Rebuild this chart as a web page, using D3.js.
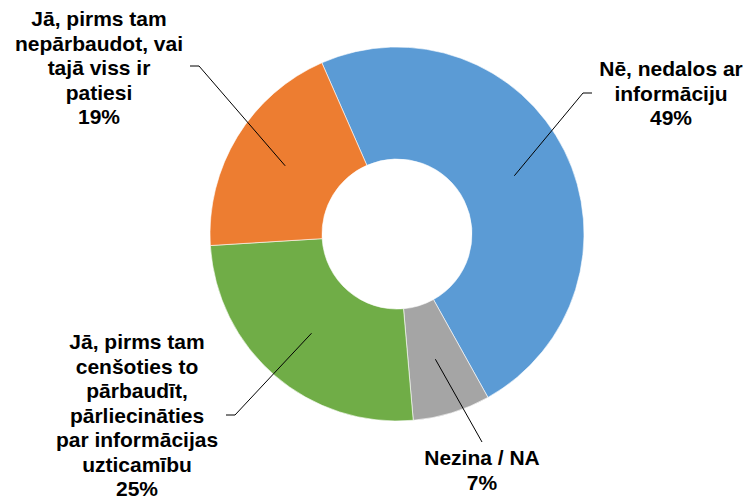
<!DOCTYPE html>
<html>
<head>
<meta charset="utf-8">
<script src="https://cdn.jsdelivr.net/npm/d3@7"></script>
<style>
  body { margin: 0; background: #fff; }
  svg { display: block; }
  .lbl { font-family: "Liberation Sans", Arial, sans-serif; font-weight: bold; font-size: 21px; fill: #000; }
</style>
</head>
<body>
<svg id="chart"></svg>
<script>
// slice order clockwise, starting at the blue one
const categories = ["Nē, nedalos ar informāciju", "Nezina / NA",
  "Jā, pirms tam cenšoties to pārbaudīt, pārliecināties par informācijas uzticamību",
  "Jā, pirms tam nepārbaudot, vai tajā viss ir patiesi"];
const values = [48.5, 6.7, 25.4, 19.4];
const percentLabels = ["49%", "7%", "25%", "19%"];
const labelLines = [
  ["Nē, nedalos ar", "informāciju"],
  ["Nezina / NA"],
  ["Jā, pirms tam", "cenšoties to", "pārbaudīt,", "pārliecināties", "par informācijas", "uzticamību"],
  ["Jā, pirms tam", "nepārbaudot, vai", "tajā viss ir", "patiesi"]
];
const colors = ["#5B9BD5", "#A5A5A5", "#70AD47", "#ED7D31"];

const width = 748, height = 501;
const cx = 397, cy = 234;
const outerR = 187, innerR = 75;
const startDeg = -23.7;
const lineH = 24.5;

// label placement: text centre x, first baseline y, leader elbow points
const labelPos = [
  { x: 671, y: 76, stub: [[592, 93], [583, 93]] },
  { x: 482, y: 465, stub: [[482, 442]] },
  { x: 137, y: 349, stub: [[226, 415], [235, 415]] },
  { x: 99, y: 26, stub: [[190, 66], [199, 66]] }
];

const svg = d3.select("#chart").attr("width", width).attr("height", height);

const pie = d3.pie().sort(null).value(d => d)
  .startAngle(startDeg * Math.PI / 180)
  .endAngle((startDeg + 360) * Math.PI / 180);
const arcs = pie(values);

const arc = d3.arc().innerRadius(innerR).outerRadius(outerR);
const midArc = d3.arc().innerRadius((innerR + outerR) / 2).outerRadius((innerR + outerR) / 2);

const g = svg.append("g").attr("transform", `translate(${cx},${cy})`);

g.selectAll("path.slice")
  .data(arcs)
  .join("path")
  .attr("class", "slice")
  .attr("d", arc)
  .attr("fill", (d, i) => colors[i])
  .attr("stroke", "#fff")
  .attr("stroke-width", 0.6);

// leader lines
arcs.forEach((d, i) => {
  const c = midArc.centroid(d);
  const pts = labelPos[i].stub.concat([[c[0] + cx, c[1] + cy]]);
  svg.append("path")
    .attr("d", d3.line()(pts))
    .attr("fill", "none")
    .attr("stroke", "#000")
    .attr("stroke-width", 1);
});

// labels
arcs.forEach((d, i) => {
  const lines = labelLines[i].concat([percentLabels[i]]);
  const t = svg.append("text")
    .attr("class", "lbl")
    .attr("text-anchor", "middle");
  lines.forEach((s, k) => {
    t.append("tspan")
      .attr("x", labelPos[i].x)
      .attr("y", labelPos[i].y + k * lineH)
      .text(s);
  });
});
</script>
</body>
</html>
